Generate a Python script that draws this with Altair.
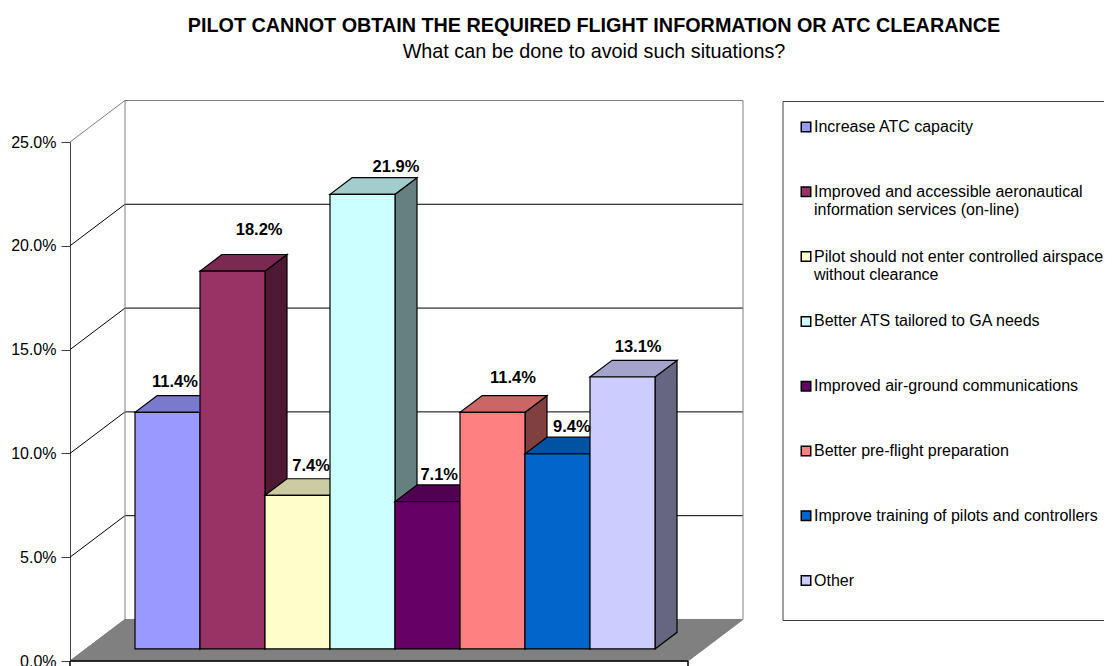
import altair as alt
import pandas as pd

categories = [
    "Increase ATC capacity",
    "Improved and accessible aeronautical|information services (on-line)",
    "Pilot should not enter controlled airspace|without clearance",
    "Better ATS tailored to GA needs",
    "Improved air-ground communications",
    "Better pre-flight preparation",
    "Improve training of pilots and controllers",
    "Other",
]
values = [11.4, 18.2, 7.4, 21.9, 7.1, 11.4, 9.4, 13.1]
front_colors = ["#9999FF", "#993366", "#FFFFCC", "#CCFFFF", "#660066", "#FF8080", "#0066CC", "#CCCCFF"]
top_colors = ["#7A7ACC", "#7A2952", "#CCCCA3", "#A3CCCC", "#520052", "#CC6666", "#0052A3", "#A3A3CC"]
side_colors = ["#4D4D80", "#4D1933", "#808066", "#668080", "#330033", "#804040", "#003366", "#666680"]
label_x_shift = [0.615, 0.91, 0.71, 1.015, 0.68, 0.815, 0.72, 0.74]
label_lift = [1.47, 2.0, 1.4, 1.3, 1.3, 1.66, 1.3, 1.45]
y_ticks = [0, 5, 10, 15, 20, 25]

FONT = "Liberation Sans"
UX, UY = 65.0, 20.76
W = 618 / UX
DX, DY = 55 / UX, 2.0
D0, D1 = 0.29, 0.69
BAR0 = 1.0

xs = alt.Scale(domain=[0, W])
ys = alt.Scale(domain=[0, 25])
y_axis = alt.Axis(
    values=y_ticks,
    labelExpr="format(datum.value,'.1f')+'%'",
    labelFont=FONT,
    labelFontSize=16,
    labelColor="black",
    labelPadding=5,
    tickColor="#404040",
    tickSize=9,
    domainColor="#404040",
    grid=False,
    title=None,
)


def X(f="x"):
    return alt.X(f"{f}:Q", scale=xs, axis=None)


def Y(f="y"):
    return alt.Y(f"{f}:Q", scale=ys, axis=y_axis, title=None)


layers = []

# legend frame: only the three sides inside the picture
fx0, fx1 = 713 / UX, 1042 / UX
fy0, fy1 = (661.5 - 621) / UY, 27 - 0.05
frame = pd.DataFrame(
    [
        {"x": fx0, "x2": fx0, "y": fy0, "y2": fy1},
        {"x": fx0, "x2": fx1, "y": fy0, "y2": fy0},
        {"x": fx0, "x2": fx1, "y": fy1, "y2": fy1},
    ]
)
layers.append(
    alt.Chart(frame)
    .mark_rule(color="#404040", strokeWidth=1)
    .encode(x=X(), x2="x2:Q", y=Y(), y2="y2:Q")
)

# walls: grid lines
grid_black, grid_gray = [], []
for t in y_ticks:
    target = grid_gray if t in (0, 25) else grid_black
    target.append({"x": 0, "x2": DX, "y": t, "y2": t + DY})
    target.append({"x": DX, "x2": DX + W, "y": t + DY, "y2": t + DY})
grid_gray.append({"x": DX, "x2": DX, "y": DY, "y2": 25 + DY})
grid_gray.append({"x": DX + W, "x2": DX + W, "y": DY, "y2": 25 + DY})
for g, c in [(grid_black, "black"), (grid_gray, "#808080")]:
    layers.append(
        alt.Chart(pd.DataFrame(g))
        .mark_rule(strokeWidth=1, color=c)
        .encode(x=X(), x2="x2:Q", y=Y(), y2="y2:Q")
    )

# floor
floor = pd.DataFrame([{"y": 0, "x": 0, "x2": W}, {"y": DY, "x": DX, "x2": DX + W}])
layers.append(
    alt.Chart(floor)
    .mark_area(orient="horizontal", fill="#808080", stroke="#808080", strokeWidth=1)
    .encode(y=Y(), x=X(), x2="x2:Q")
)
# front floor edge with its short category ticks
edge = pd.DataFrame(
    [
        {"x": 0, "x2": W, "y": 0, "y2": 0},
        {"x": 0, "x2": 0, "y": 0, "y2": -0.3},
        {"x": W, "x2": W, "y": 0, "y2": -0.3},
    ]
)
layers.append(
    alt.Chart(edge)
    .mark_rule(color="black", strokeWidth=1.5)
    .encode(x=X(), x2="x2:Q", y=Y(), y2="y2:Q")
)

# bars, painted left to right
for i, (cat, v) in enumerate(zip(categories, values)):
    left = BAR0 + i
    right = left + 1
    sx = (D1 - D0) * DX
    b0, b1 = D0 * DY, D1 * DY
    side = pd.DataFrame(
        [
            {"x": right, "y": b0, "y2": b0 + v},
            {"x": right + sx, "y": b1, "y2": b1 + v},
        ]
    )
    layers.append(
        alt.Chart(side)
        .mark_area(orient="vertical", fill=side_colors[i], stroke="black", strokeWidth=1.2)
        .encode(x=X(), y=Y(), y2="y2:Q")
    )
    top = pd.DataFrame(
        [
            {"y": b0 + v, "x": left, "x2": right},
            {"y": b1 + v, "x": left + sx, "x2": right + sx},
        ]
    )
    layers.append(
        alt.Chart(top)
        .mark_area(orient="horizontal", fill=top_colors[i], stroke="black", strokeWidth=1.2)
        .encode(y=Y(), x=X(), x2="x2:Q")
    )
    front = pd.DataFrame([{"cat": cat, "x": left, "x2": right, "y": b0, "y2": b0 + v}])
    layers.append(
        alt.Chart(front)
        .mark_rect(stroke="black", strokeWidth=1.2)
        .encode(
            x=X(),
            x2="x2:Q",
            y=Y(),
            y2="y2:Q",
            color=alt.Color(
                "cat:N",
                scale=alt.Scale(domain=categories, range=front_colors),
                legend=alt.Legend(
                    title=None,
                    orient="none",
                    legendX=728,
                    legendY=-42,
                    columns=1,
                    symbolType="square",
                    symbolSize=90,
                    symbolStrokeColor="black",
                    symbolStrokeWidth=1.5,
                    clipHeight=54,
                    rowPadding=10.8,
                    labelFont=FONT,
                    labelFontSize=16,
                    labelColor="black",
                    labelLimit=400,
                    labelOffset=0,
                    labelExpr="split(datum.label,'|')",
                ),
            ),
        )
    )

# data labels
label_df = pd.DataFrame(
    {
        "x": [BAR0 + i + s for i, s in enumerate(label_x_shift)],
        "y": [D0 * DY + v + l for v, l in zip(values, label_lift)],
        "t": [f"{v:.1f}%" for v in values],
    }
)
layers.append(
    alt.Chart(label_df)
    .mark_text(font=FONT, fontSize=16.5, fontWeight="bold", color="black", align="center", baseline="middle")
    .encode(x=X(), y=Y(), text="t:N")
)

chart = (
    alt.layer(*layers)
    .properties(
        width=618,
        height=519,
        autosize=alt.AutoSizeParams(type="none"),
        padding={"left": 62, "top": 134, "right": 416, "bottom": 5},
        background="white",
        title=alt.TitleParams(
            text="PILOT CANNOT OBTAIN THE REQUIRED FLIGHT INFORMATION OR ATC CLEARANCE",
            subtitle="What can be done to avoid such situations?",
            font=FONT,
            fontSize=19.8,
            fontWeight="bold",
            color="black",
            subtitleFont=FONT,
            subtitleFontSize=19.8,
            subtitleColor="black",
            subtitlePadding=6,
            anchor="middle",
            dx=215,
            offset=38.5,
        ),
    )
    .configure_view(stroke=None)
)
chart.save("out.html", embed_options={"renderer": "svg", "actions": False})
